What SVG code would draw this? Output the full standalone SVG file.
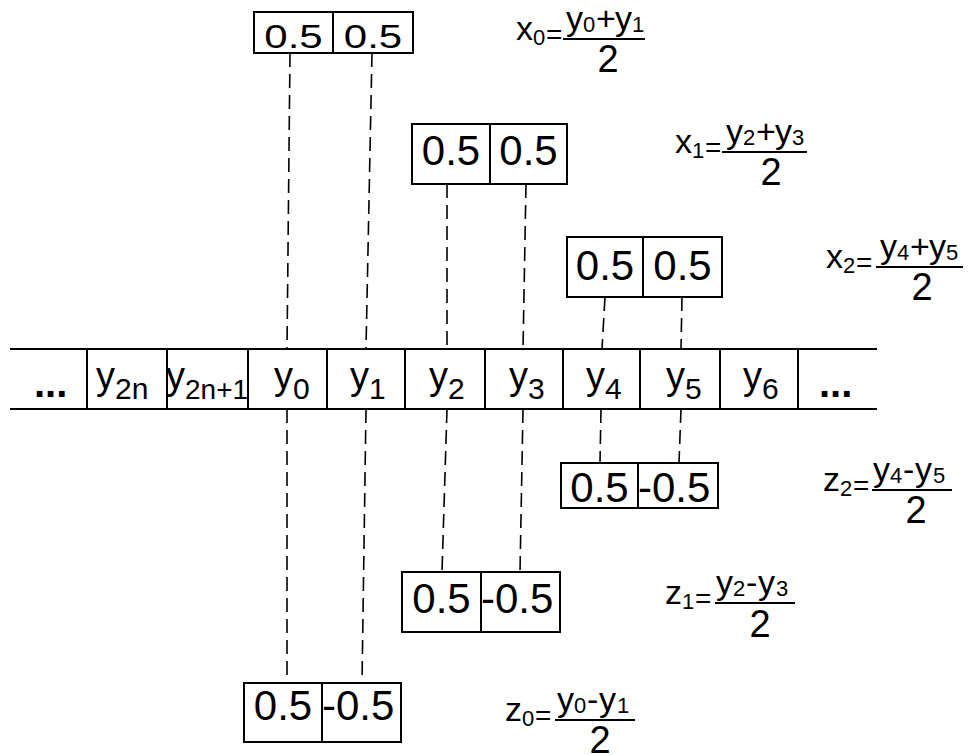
<svg xmlns="http://www.w3.org/2000/svg" width="968" height="755" viewBox="0 0 968 755">
<style>
.bx{fill:#fff;stroke:#000;stroke-width:2}
.dv{stroke:#000;stroke-width:2}
.cn{stroke:#000;stroke-width:1.6;stroke-dasharray:14 7;fill:none}
.t{font-family:"Liberation Sans",Arial,sans-serif;fill:#000}
.n{font-size:42px}
.m{text-anchor:middle}
.yl{font-size:38px}
.ys{font-size:30px}
.f{font-size:34px}
.fs{font-size:22px}
.eq{font-size:28px}
.d{font-size:38px;text-anchor:middle}
.dots{font-size:40px;font-weight:bold}
.fl{stroke:#000;stroke-width:2.2}
</style>
<rect width="968" height="755" fill="#fff"/>

<g id="connectors">
<line class="cn" x1="290" y1="53" x2="287" y2="349"/>
<line class="cn" x1="372" y1="53" x2="366" y2="349"/>
<line class="cn" x1="447" y1="184" x2="447" y2="349"/>
<line class="cn" x1="526" y1="184" x2="523" y2="349"/>
<line class="cn" x1="605" y1="297" x2="602" y2="349"/>
<line class="cn" x1="682" y1="297" x2="681" y2="349"/>
<line class="cn" x1="601" y1="409" x2="600" y2="463"/>
<line class="cn" x1="681" y1="409" x2="679" y2="463"/>
<line class="cn" x1="447" y1="409" x2="442" y2="572"/>
<line class="cn" x1="523" y1="409" x2="520" y2="572"/>
<line class="cn" x1="287" y1="409" x2="287" y2="683"/>
<line class="cn" x1="366" y1="409" x2="362" y2="683"/>
</g>

<g id="strip">
<line class="dv" x1="10" y1="349" x2="877" y2="349"/>
<line class="dv" x1="10" y1="409" x2="877" y2="409"/>
<line class="dv" x1="87" y1="349" x2="87" y2="409"/>
<line class="dv" x1="167" y1="349" x2="167" y2="409"/>
<line class="dv" x1="248" y1="349" x2="248" y2="409"/>
<line class="dv" x1="327" y1="349" x2="327" y2="409"/>
<line class="dv" x1="405" y1="349" x2="405" y2="409"/>
<line class="dv" x1="485" y1="349" x2="485" y2="409"/>
<line class="dv" x1="563" y1="349" x2="563" y2="409"/>
<line class="dv" x1="640" y1="349" x2="640" y2="409"/>
<line class="dv" x1="720" y1="349" x2="720" y2="409"/>
<line class="dv" x1="798" y1="349" x2="798" y2="409"/>
<text class="t dots" x="34" y="397">...</text>
<text class="t yl" x="96" y="389">y</text><text class="t ys" x="115" y="399">2n</text>
<text class="t yl" x="166" y="389">y</text><text class="t ys" x="185" y="399" style="font-size:28px">2n+1</text>
<text class="t yl" x="274" y="389">y</text><text class="t ys" x="293" y="399">0</text>
<text class="t yl" x="350" y="389">y</text><text class="t ys" x="369" y="399">1</text>
<text class="t yl" x="429" y="389">y</text><text class="t ys" x="448" y="399">2</text>
<text class="t yl" x="509" y="389">y</text><text class="t ys" x="528" y="399">3</text>
<text class="t yl" x="586" y="389">y</text><text class="t ys" x="605" y="399">4</text>
<text class="t yl" x="666" y="389">y</text><text class="t ys" x="685" y="399">5</text>
<text class="t yl" x="743" y="389">y</text><text class="t ys" x="762" y="399">6</text>
<text class="t dots" x="819" y="397">...</text>
</g>

<g id="box-x0">
<rect class="bx" x="254" y="12" width="159" height="41"/>
<line class="dv" x1="333" y1="12" x2="333" y2="53"/>
<text class="t n m" transform="translate(293.5,48) scale(1,0.8)">0.5</text>
<text class="t n m" transform="translate(373,48) scale(1,0.8)">0.5</text>
</g>
<g id="box-x1">
<rect class="bx" x="412" y="124" width="155" height="60"/>
<line class="dv" x1="490" y1="124" x2="490" y2="184"/>
<text class="t n m" x="451" y="165">0.5</text>
<text class="t n m" x="528.5" y="165">0.5</text>
</g>
<g id="box-x2">
<rect class="bx" x="567" y="237" width="155" height="60"/>
<line class="dv" x1="643" y1="237" x2="643" y2="297"/>
<text class="t n m" x="605" y="280">0.5</text>
<text class="t n m" x="682.5" y="280">0.5</text>
</g>
<g id="box-z2">
<rect class="bx" x="561" y="463" width="157" height="45"/>
<line class="dv" x1="638" y1="463" x2="638" y2="508"/>
<text class="t n m" x="599.5" y="502">0.5</text>
<text class="t n" x="638" y="502">-0.5</text>
</g>
<g id="box-z1">
<rect class="bx" x="402" y="572" width="158" height="60"/>
<line class="dv" x1="481" y1="572" x2="481" y2="632"/>
<text class="t n m" x="441.5" y="613">0.5</text>
<text class="t n" x="481" y="613">-0.5</text>
</g>
<g id="box-z0">
<rect class="bx" x="244" y="683" width="157" height="59"/>
<line class="dv" x1="322" y1="683" x2="322" y2="742"/>
<text class="t n m" x="283" y="720">0.5</text>
<text class="t n" x="322" y="720">-0.5</text>
</g>

<g id="formula-x0" transform="translate(516,39)">
<text class="t f" x="0" y="1">x</text><text class="t fs" x="17" y="6">0</text>
<text class="t eq" x="30" y="5">=</text>
<line class="fl" x1="47" y1="0" x2="129" y2="0"/>
<text class="t f" x="50" y="-9">y</text><text class="t fs" x="67" y="-7">0</text>
<text class="t f" x="80" y="-9">+</text>
<text class="t f" x="99" y="-9">y</text><text class="t fs" x="116" y="-7">1</text>
<text class="t d" x="92" y="33">2</text>
</g>
<g id="formula-x1" transform="translate(675,152)">
<text class="t f" x="0" y="1">x</text><text class="t fs" x="17" y="6">1</text>
<text class="t eq" x="30" y="5">=</text>
<line class="fl" x1="47" y1="0" x2="132" y2="0"/>
<text class="t f" x="51" y="-9">y</text><text class="t fs" x="68" y="-7">2</text>
<text class="t f" x="81" y="-9">+</text>
<text class="t f" x="100" y="-9">y</text><text class="t fs" x="117" y="-7">3</text>
<text class="t d" x="96" y="33">2</text>
</g>
<g id="formula-x2" transform="translate(826,267)">
<text class="t f" x="0" y="1">x</text><text class="t fs" x="17" y="6">2</text>
<text class="t eq" x="30" y="5">=</text>
<line class="fl" x1="50" y1="0" x2="137" y2="0"/>
<text class="t f" x="54" y="-9">y</text><text class="t fs" x="71" y="-7">4</text>
<text class="t f" x="84" y="-9">+</text>
<text class="t f" x="103" y="-9">y</text><text class="t fs" x="120" y="-7">5</text>
<text class="t d" x="96" y="33">2</text>
</g>
<g id="formula-z2" transform="translate(823,490)">
<text class="t f" x="0" y="1">z</text><text class="t fs" x="17" y="6">2</text>
<text class="t eq" x="30" y="5">=</text>
<line class="fl" x1="49" y1="0" x2="129" y2="0"/>
<text class="t f" x="50" y="-9">y</text><text class="t fs" x="67" y="-7">4</text>
<text class="t f" x="80" y="-9">-</text>
<text class="t f" x="92" y="-9">y</text><text class="t fs" x="110" y="-7">5</text>
<text class="t d" x="93" y="33">2</text>
</g>
<g id="formula-z1" transform="translate(665,603)">
<text class="t f" x="0" y="1">z</text><text class="t fs" x="17" y="6">1</text>
<text class="t eq" x="30" y="5">=</text>
<line class="fl" x1="50" y1="0" x2="130" y2="0"/>
<text class="t f" x="51" y="-9">y</text><text class="t fs" x="68" y="-7">2</text>
<text class="t f" x="81" y="-9">-</text>
<text class="t f" x="93" y="-9">y</text><text class="t fs" x="111" y="-7">3</text>
<text class="t d" x="95" y="34">2</text>
</g>
<g id="formula-z0" transform="translate(505,720)">
<text class="t f" x="0" y="1">z</text><text class="t fs" x="17" y="6">0</text>
<text class="t eq" x="30" y="5">=</text>
<line class="fl" x1="50" y1="0" x2="130" y2="0"/>
<text class="t f" x="52" y="-9">y</text><text class="t fs" x="69" y="-7">0</text>
<text class="t f" x="82" y="-9">-</text>
<text class="t f" x="94" y="-9">y</text><text class="t fs" x="112" y="-7">1</text>
<text class="t d" x="95" y="33">2</text>
</g>
</svg>
